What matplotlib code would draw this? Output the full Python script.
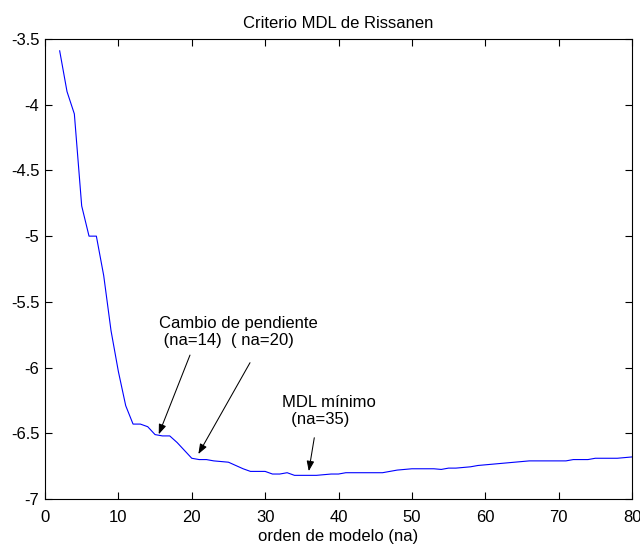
import numpy as np
import matplotlib
matplotlib.use("Agg")
import matplotlib.pyplot as plt

plt.rcParams['font.family'] = ['Liberation Sans', 'DejaVu Sans']
plt.rcParams['font.size'] = 12

# MDL criterion vs. model order
orders = list(range(2, 81))
mdl = [
    -3.59, -3.90, -4.07, -4.77, -5.00, -5.00, -5.30, -5.72, -6.03, -6.29,   # 2-11
    -6.43, -6.43, -6.45, -6.51, -6.52, -6.52, -6.57, -6.63, -6.69, -6.70,   # 12-21
    -6.70, -6.71, -6.715, -6.72, -6.745, -6.77, -6.79, -6.79, -6.79, -6.81, # 22-31
    -6.81, -6.80, -6.82, -6.82, -6.82, -6.82, -6.815, -6.81, -6.81, -6.80,  # 32-41
    -6.80, -6.80, -6.80, -6.80, -6.80, -6.79, -6.78, -6.775, -6.77, -6.77,  # 42-51
    -6.77, -6.77, -6.775, -6.765, -6.765, -6.76, -6.755, -6.745, -6.74, -6.735,  # 52-61
    -6.73, -6.725, -6.72, -6.715, -6.71, -6.71, -6.71, -6.71, -6.71, -6.71,  # 62-71
    -6.70, -6.70, -6.70, -6.69, -6.69, -6.69, -6.69, -6.685, -6.68,         # 72-80
]

xticks = [0, 10, 20, 30, 40, 50, 60, 70, 80]
yticks = [-7, -6.5, -6, -5.5, -5, -4.5, -4, -3.5]
ytick_labels = ['-7', '-6.5', '-6', '-5.5', '-5', '-4.5', '-4', '-3.5']

# annotation arrows: (tail, head) in data units
arrows = [
    ((19.76, -5.905), (15.5, -6.508)),
    ((27.94, -5.963), (20.9, -6.658)),
    ((36.7, -6.534), (35.95, -6.788)),
]

fig = plt.figure(figsize=(6.4, 5.47), dpi=100)
ax = fig.add_axes([45 / 640, 1 - 499 / 547, 587 / 640, 460 / 547])

ax.plot(orders, mdl, color='#0000ff', lw=0.8)

ax.set_xlim(0, 80)
ax.set_ylim(-7, -3.5)
ax.set_xticks(xticks)
ax.set_yticks(yticks)
ax.set_yticklabels(ytick_labels)
ax.tick_params(direction='in', length=5, width=0.8, top=True, right=True)
ax.tick_params(axis='x', pad=8)
ax.tick_params(axis='y', pad=4)
for s in ax.spines.values():
    s.set_linewidth(0.8)

ax.set_title('Criterio MDL de Rissanen', fontsize=12, pad=8)
ax.set_xlabel('orden de modelo (na)', fontsize=12, labelpad=3)

for tail, head in arrows:
    ax.annotate('', xy=head, xytext=tail,
                arrowprops=dict(arrowstyle='-|>,head_length=0.4,head_width=0.15',
                                mutation_scale=15, color='k', lw=0.75,
                                shrinkA=0, shrinkB=0))

# baseline refers to the last line of each two-line label
ax.text(15.54, -5.829, 'Cambio de pendiente\n (na=14)  ( na=20)',
        ha='left', va='baseline', fontsize=12)
ax.text(32.3, -6.430, 'MDL mínimo\n  (na=35)',
        ha='left', va='baseline', fontsize=12)

fig.savefig('out.png', dpi=100, facecolor='white')
